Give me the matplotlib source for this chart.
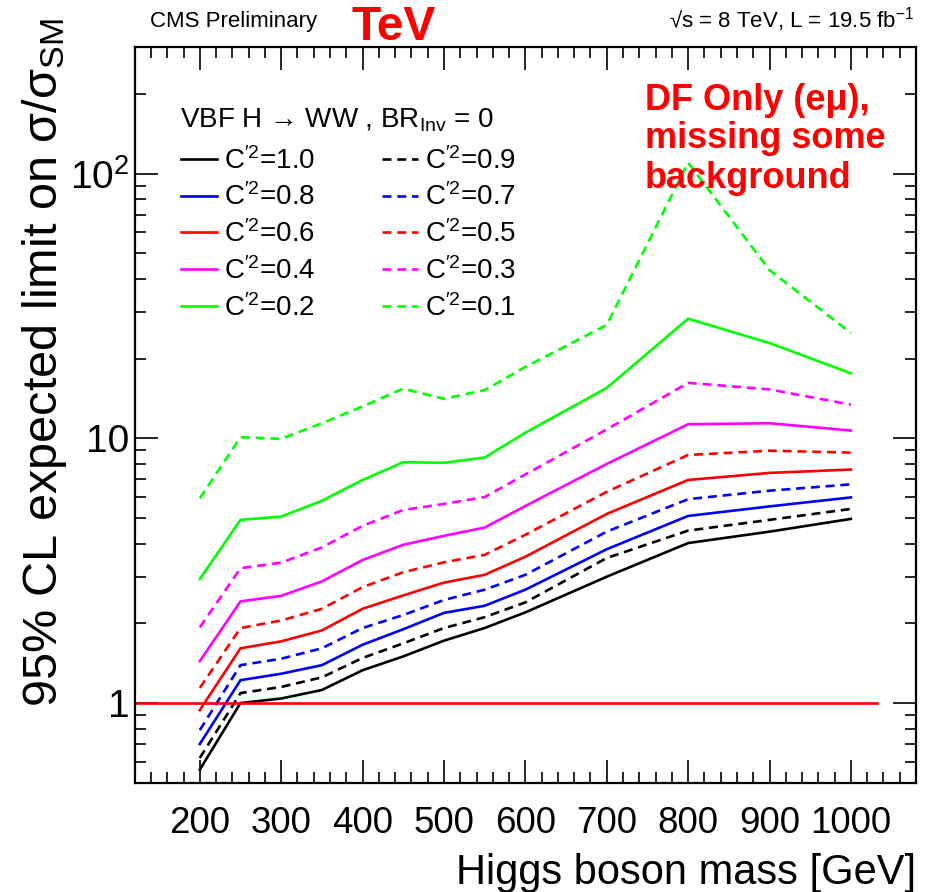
import matplotlib
matplotlib.use("Agg")
import matplotlib.pyplot as plt
from matplotlib.ticker import FixedLocator, NullFormatter, MultipleLocator

plt.rcParams['font.family'] = ['Liberation Sans', 'DejaVu Sans']
plt.rcParams['mathtext.fontset'] = 'custom'
plt.rcParams['mathtext.rm'] = 'Liberation Sans'
plt.rcParams['mathtext.it'] = 'Liberation Sans:italic'
plt.rcParams['mathtext.bf'] = 'Liberation Sans:bold'

# ---------------- data ----------------
masses = [200, 250, 300, 350, 400, 450, 500, 550, 600, 700, 800, 900, 1000]

c10 = [0.56, 1.00, 1.04, 1.12, 1.33, 1.50, 1.72, 1.92, 2.20, 3.00, 4.02, 4.44, 4.96]
c09 = [0.62, 1.09, 1.15, 1.25, 1.48, 1.68, 1.92, 2.11, 2.40, 3.53, 4.48, 4.92, 5.41]
c08 = [0.70, 1.22, 1.29, 1.39, 1.66, 1.90, 2.19, 2.33, 2.68, 3.81, 5.09, 5.53, 5.98]
c07 = [0.79, 1.39, 1.47, 1.61, 1.92, 2.15, 2.45, 2.68, 3.05, 4.44, 5.89, 6.34, 6.70]
c06 = [0.94, 1.61, 1.71, 1.88, 2.27, 2.55, 2.85, 3.05, 3.57, 5.18, 6.96, 7.40, 7.62]
c05 = [1.14, 1.92, 2.05, 2.27, 2.74, 3.12, 3.40, 3.63, 4.32, 6.28, 8.65, 8.98, 8.83]
c04 = [1.44, 2.42, 2.54, 2.88, 3.47, 3.96, 4.28, 4.60, 5.55, 8.00, 11.3, 11.4, 10.7]
c03 = [1.93, 3.23, 3.39, 3.87, 4.67, 5.36, 5.65, 6.00, 7.30, 10.8, 16.2, 15.3, 13.4]
c02 = [2.94, 4.92, 5.06, 5.81, 6.96, 8.12, 8.08, 8.46, 10.5, 15.5, 28.3, 22.9, 17.6]
c01 = [5.93, 10.1, 9.95, 11.4, 13.2, 15.4, 14.1, 15.2, 18.6, 26.8, 110.0, 43.2, 25.0]

series_values = [c10, c09, c08, c07, c06, c05, c04, c03, c02, c01]
series_labels = ["1.0", "0.9", "0.8", "0.7", "0.6", "0.5", "0.4", "0.3", "0.2", "0.1"]
series_colors = ["black", "black", "blue", "blue", "red", "red",
                 "magenta", "magenta", "#00ff00", "#00ff00"]
series_dashed = [False, True] * 5

ref_line_x = [120, 1032]
ref_line_y = [1.0, 1.0]

xtick_values = [200, 300, 400, 500, 600, 700, 800, 900, 1000]
ytick_values = [1, 10, 100]
ytick_labels = ["1", "10", "10$^{2}$"]

# ---------------- figure ----------------
W, H = 932, 892
fig = plt.figure(figsize=(W / 100, H / 100), dpi=100)
ax = fig.add_axes([134.7 / W, 1 - 782.7 / H, (916 - 134.7) / W, (782.7 - 47.3) / H])

lw = 1.9
handles = {}
for vals, lab, col, dashed in zip(series_values, series_labels, series_colors, series_dashed):
    kw = dict(color=col, lw=lw, solid_joinstyle='miter')
    if dashed:
        kw['dashes'] = (3.4, 2.2)
    ln, = ax.plot(masses, vals, **kw)
    handles[lab] = (ln, r"C$^{\prime2}$=" + lab)

ax.plot(ref_line_x, ref_line_y, color='red', lw=lw)

ax.set_yscale('log')
ax.set_xlim(120, 1080)
ax.set_ylim(0.5, 300)

ax.xaxis.set_major_locator(FixedLocator(xtick_values))
ax.xaxis.set_minor_locator(MultipleLocator(20))
ax.set_xticklabels([str(v) for v in xtick_values])
ax.yaxis.set_major_locator(FixedLocator(ytick_values))
ax.set_yticklabels(ytick_labels)
ax.yaxis.set_minor_formatter(NullFormatter())

ax.tick_params(which='both', direction='in', top=True, right=True, width=1.2)
ax.tick_params(which='major', length=16.5)
ax.tick_params(which='minor', length=8)
ax.tick_params(axis='x', which='major', labelsize=26.5, pad=17)
ax.tick_params(axis='y', which='major', labelsize=28, pad=4)
for s in ax.spines.values():
    s.set_linewidth(1.6)

# axis titles
fig.text(916 / W, 1 - 884 / H, "Higgs boson mass [GeV]", ha='right', va='baseline', fontsize=30)
fig.text(45 / W, 1 - 18 / H, r"95% CL expected limit on σ/σ$_{\rm SM}$", rotation=90,
         ha='center', va='top', fontsize=35)

# top texts
fig.text(150 / W, 1 - 27 / H, "CMS Preliminary", ha='left', va='baseline', fontsize=16)
fig.text(351 / W, 1 - 40 / H, "TeV", ha='left', va='baseline', fontsize=34.5,
         fontweight='bold', color='red')
fig.text(914 / W, 1 - 27 / H, "\u221As = 8 TeV, L = 19.5 fb$^{-1}$", ha='right',
         va='baseline', fontsize=16)

# DF only text
for i, line in enumerate(["DF Only (eμ),", "missing some", "background"]):
    fig.text(645 / W, 1 - (109.5 + 39 * i) / H, line, ha='left', va='baseline',
             fontsize=26, fontweight='bold', color='red')

# legend header
fig.text(180 / W, 1 - 127 / H, "VBF H \u2192 WW , BR$_{\\rm Inv}$ = 0",
         ha='left', va='baseline', fontsize=20)

order = ["1.0", "0.8", "0.6", "0.4", "0.2", "0.9", "0.7", "0.5", "0.3", "0.1"]
leg = ax.legend([handles[k][0] for k in order], [handles[k][1] for k in order],
                ncol=2, loc='upper left', bbox_to_anchor=(181 / W, 1 - 147 / H),
                bbox_transform=fig.transFigure, frameon=False, fontsize=20,
                handlelength=1.3, handletextpad=0.25, columnspacing=2.4,
                labelspacing=0.32, borderpad=0, borderaxespad=0)

fig.savefig("out.png", dpi=100)
